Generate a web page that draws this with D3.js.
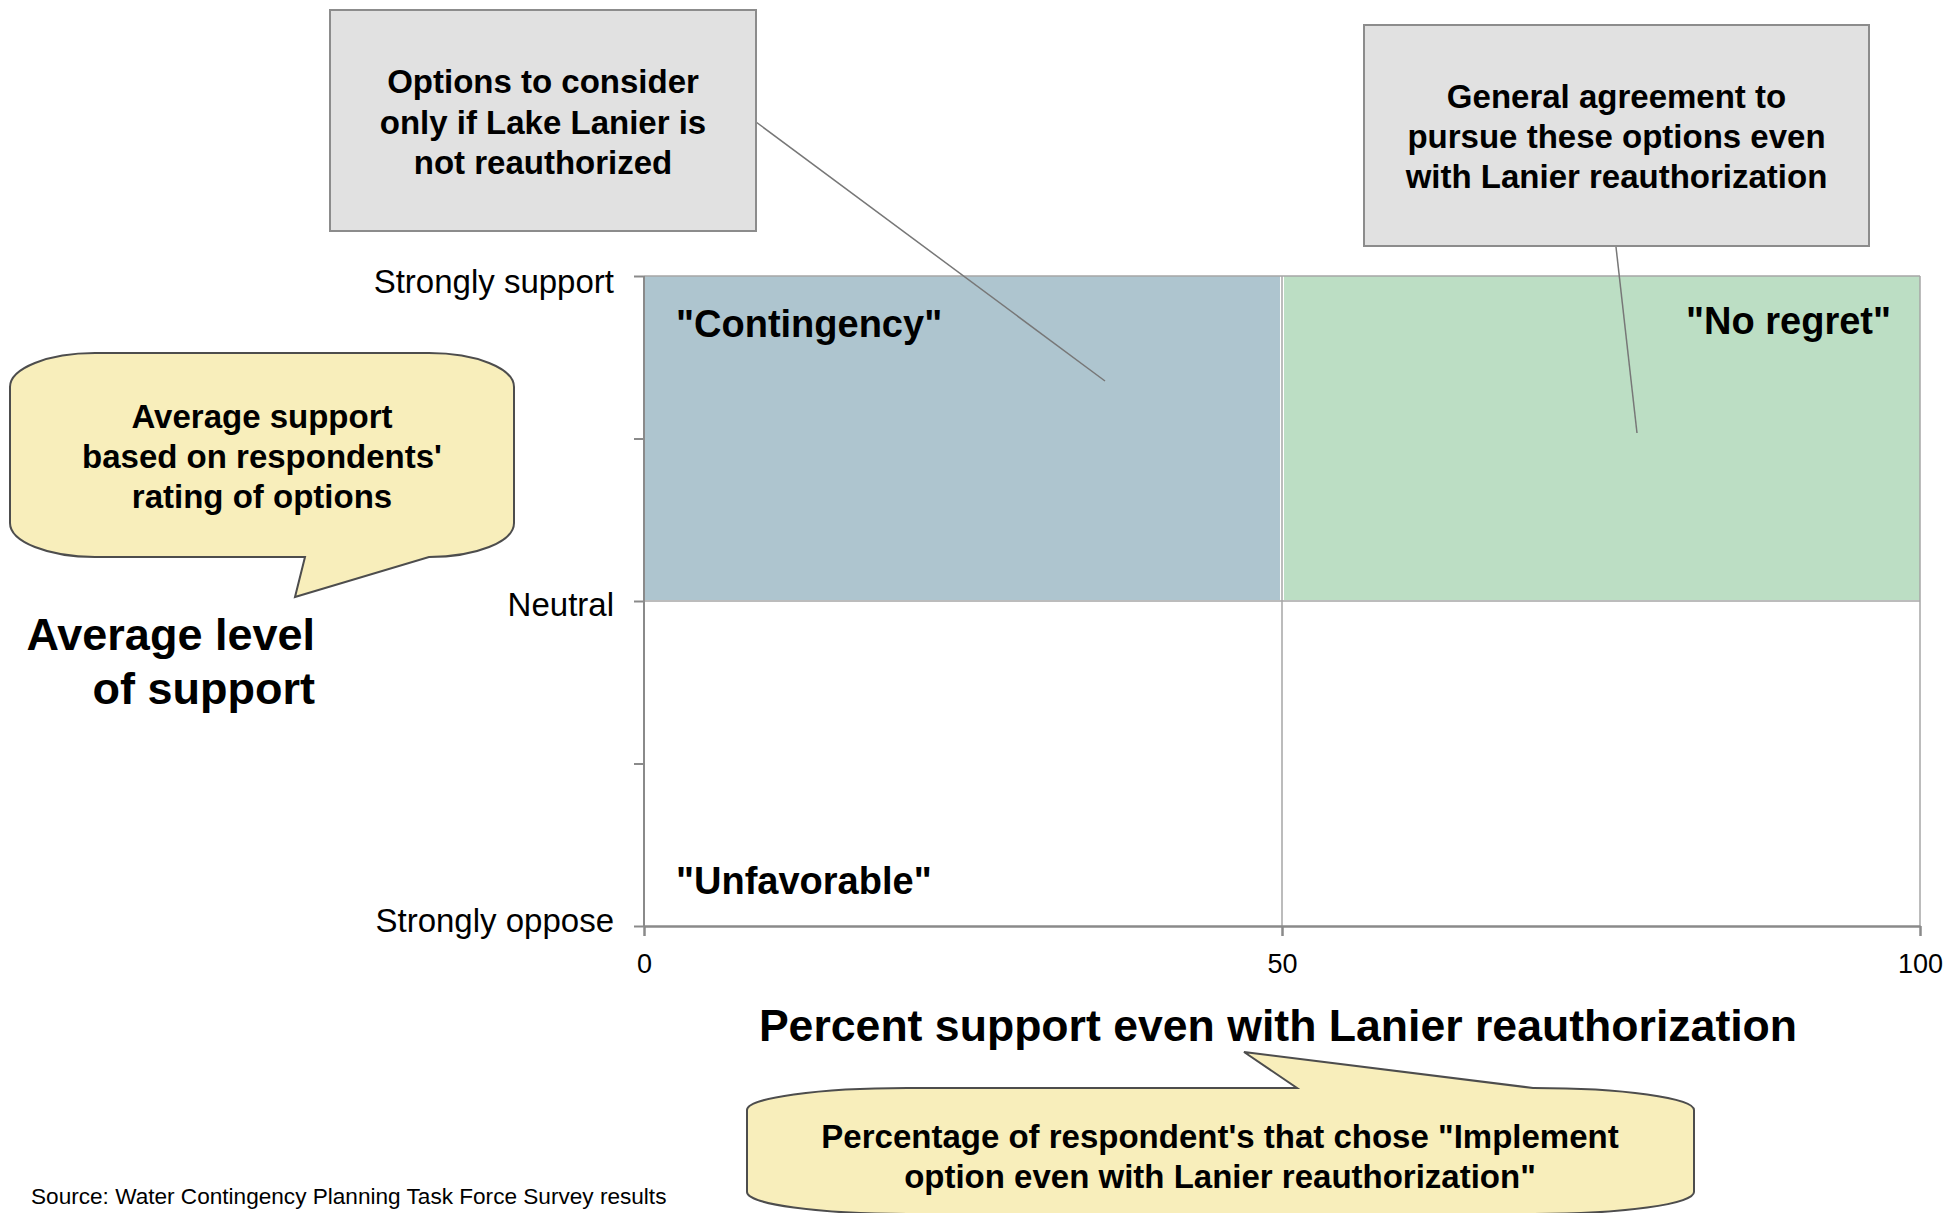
<!DOCTYPE html>
<html>
<head>
<meta charset="utf-8">
<script src="https://cdn.jsdelivr.net/npm/d3@7"></script>
<style>
  html, body { margin: 0; padding: 0; background: #ffffff; }
  svg { display: block; font-family: "Liberation Sans", Arial, Helvetica, sans-serif; }
</style>
</head>
<body>
<svg id="chart" width="1946" height="1213"></svg>
<script>
// ---------------- data ----------------
const xTickValues = [0, 50, 100];
const yTickValues = [-2, -1, 0, 1, 2];
const yTickLabels = { "-2": "Strongly oppose", "-1": "", "0": "Neutral", "1": "", "2": "Strongly support" };

const quadrantNames = ["\"Contingency\"", "\"No regret\"", "\"Unfavorable\""];
const quadrantX0 = [0, 50];
const quadrantX1 = [50, 100];
const quadrantY0 = [0, 0];
const quadrantY1 = [2, 2];

const xAxisTitle = "Percent support even with Lanier reauthorization";
const yAxisTitle = ["Average level", "of support"];
const sourceText = "Source: Water Contingency Planning Task Force Survey results";

const boxLeftText = ["Options to consider", "only if Lake Lanier is", "not reauthorized"];
const boxRightText = ["General agreement to", "pursue these options even", "with Lanier reauthorization"];
const bubbleLeftText = ["Average support", "based on respondents'", "rating of options"];
const bubbleBottomText = ["Percentage of respondent's that chose \"Implement", "option even with Lanier reauthorization\""];

// ---------------- layout ----------------
const svg = d3.select("#chart");
const x = d3.scaleLinear().domain([0, 100]).range([644, 1920]);
const y = d3.scaleLinear().domain([-2, 2]).range([926, 276]);

const quadFill = ["#aec5cf", "#bcdec4"];
const gridColor = "#a6a6a6";
const axisColor = "#8a8a8a";

// quadrant fills
svg.append("g").selectAll("rect")
  .data(quadrantX0.map((d, i) => ({ x0: d, x1: quadrantX1[i], y0: quadrantY0[i], y1: quadrantY1[i], i })))
  .join("rect")
  .attr("x", d => x(d.x0) + (d.i === 1 ? 2 : 0))
  .attr("y", d => y(d.y1))
  .attr("width", d => x(d.x1) - x(d.x0) - 2)
  .attr("height", d => y(d.y0) - y(d.y1) - 1)
  .attr("fill", d => quadFill[d.i]);

// grid / borders
const grid = svg.append("g").attr("stroke", gridColor).attr("stroke-width", 1.5).attr("fill", "none");
grid.append("line").attr("x1", x(50)).attr("x2", x(50)).attr("y1", y(2)).attr("y2", y(-2));
grid.append("line").attr("x1", x(0)).attr("x2", x(100)).attr("y1", y(0)).attr("y2", y(0));
grid.append("line").attr("x1", x(100)).attr("x2", x(100)).attr("y1", y(2)).attr("y2", y(-2));
grid.append("line").attr("x1", x(0)).attr("x2", x(100)).attr("y1", y(2)).attr("y2", y(2));

// axes
const yLabelShift = { "-2": -6, "-1": 0, "0": 3, "1": 0, "2": 5 };
const yAxis = d3.axisLeft(y).tickValues(yTickValues).tickSize(10).tickSizeOuter(0).tickPadding(20)
  .tickFormat(d => yTickLabels[String(d)]);
const gy = svg.append("g").attr("transform", `translate(${x(0)},0)`).call(yAxis);
gy.selectAll("path, line").attr("stroke", axisColor).attr("stroke-width", 2);
gy.selectAll("text").attr("font-size", 33).attr("fill", "#000").attr("dy", "0.36em")
  .attr("y", d => yLabelShift[String(d)]);
gy.select(".domain").attr("d", `M0,${y(2)}V${y(-2)}`);

const xAxis = d3.axisBottom(x).tickValues(xTickValues).tickSize(10).tickSizeOuter(0).tickPadding(18);
const gx = svg.append("g").attr("transform", `translate(0,${y(-2)})`).call(xAxis);
gx.selectAll("path, line").attr("stroke", axisColor).attr("stroke-width", 2.5);
gx.selectAll("text").attr("font-size", 27).attr("fill", "#000");

// quadrant labels
const ql = svg.append("g").attr("font-weight", "bold").attr("font-size", 38).attr("fill", "#000");
ql.append("text").attr("x", x(0) + 32).attr("y", 337).text(quadrantNames[0]);
ql.append("text").attr("x", x(100) - 29).attr("y", 334).attr("text-anchor", "end").text(quadrantNames[1]);
ql.append("text").attr("x", x(0) + 32).attr("y", 894).text(quadrantNames[2]);

// axis titles
const at = svg.append("g").attr("font-weight", "bold").attr("fill", "#000");
at.append("text").attr("x", (x(0) + x(100)) / 2 - 4).attr("y", 1041).attr("font-size", 44.6)
  .attr("text-anchor", "middle").text(xAxisTitle);
at.selectAll("text.yt").data(yAxisTitle).join("text").attr("class", "yt").attr("font-size", 45)
  .attr("x", 315).attr("y", (d, i) => 650 + i * 54).attr("text-anchor", "end").text(d => d);

// source
svg.append("text").attr("x", 31).attr("y", 1204).attr("font-size", 22.6).attr("fill", "#000").text(sourceText);

// gray boxes with leader lines
function grayBox(x0, y0, x1, y1, lines, cy, lineH) {
  const g = svg.append("g");
  g.append("rect").attr("x", x0).attr("y", y0).attr("width", x1 - x0).attr("height", y1 - y0)
    .attr("fill", "#e1e1e1").attr("stroke", "#8c8c8c").attr("stroke-width", 2);
  g.selectAll("text").data(lines).join("text")
    .attr("x", (x0 + x1) / 2).attr("y", (d, i) => cy + (i - (lines.length - 1) / 2) * lineH)
    .attr("dy", "0.36em").attr("text-anchor", "middle").attr("font-weight", "bold").attr("font-size", 33)
    .attr("fill", "#000").text(d => d);
}
svg.append("line").attr("x1", 756).attr("y1", 122).attr("x2", 1105).attr("y2", 381)
  .attr("stroke", "#777").attr("stroke-width", 1.5);
svg.append("line").attr("x1", 1616).attr("y1", 247).attr("x2", 1637).attr("y2", 433)
  .attr("stroke", "#777").attr("stroke-width", 1.5);
grayBox(330, 10, 756, 231, boxLeftText, 122, 40.5);
grayBox(1364, 25, 1869, 246, boxRightText, 136, 40);

// yellow speech bubbles
function bubblePath(x0, y0, x1, y1, rx, ry, ptr, side) {
  let p = `M${x0 + rx},${y0}`;
  if (side === "top") p += `H${ptr.b0}L${ptr.tx},${ptr.ty}L${ptr.b1},${y0}`;
  p += `H${x1 - rx}A${rx},${ry} 0 0 1 ${x1},${y0 + ry}V${y1 - ry}A${rx},${ry} 0 0 1 ${x1 - rx},${y1}`;
  if (side === "bottom") p += `H${ptr.b1}L${ptr.tx},${ptr.ty}L${ptr.b0},${y1}`;
  p += `H${x0 + rx}A${rx},${ry} 0 0 1 ${x0},${y1 - ry}V${y0 + ry}A${rx},${ry} 0 0 1 ${x0 + rx},${y0}Z`;
  return p;
}
function bubble(d, lines, cx, cy, lineH) {
  const g = svg.append("g");
  g.append("path").attr("d", d).attr("fill", "#f8eebb").attr("stroke", "#4d4d4d").attr("stroke-width", 2);
  g.selectAll("text").data(lines).join("text")
    .attr("x", cx).attr("y", (t, i) => cy + (i - (lines.length - 1) / 2) * lineH)
    .attr("dy", "0.36em").attr("text-anchor", "middle").attr("font-weight", "bold").attr("font-size", 33)
    .attr("fill", "#000").text(t => t);
}
bubble(bubblePath(10, 353, 514, 557, 85, 34, { b0: 305, b1: 429, tx: 295, ty: 597 }, "bottom"),
  bubbleLeftText, 262, 456, 40);
bubble(bubblePath(747, 1088, 1694, 1214, 160, 22, { b0: 1297, b1: 1533, tx: 1244, ty: 1052 }, "top"),
  bubbleBottomText, 1220, 1156, 39.5);
</script>
</body>
</html>
